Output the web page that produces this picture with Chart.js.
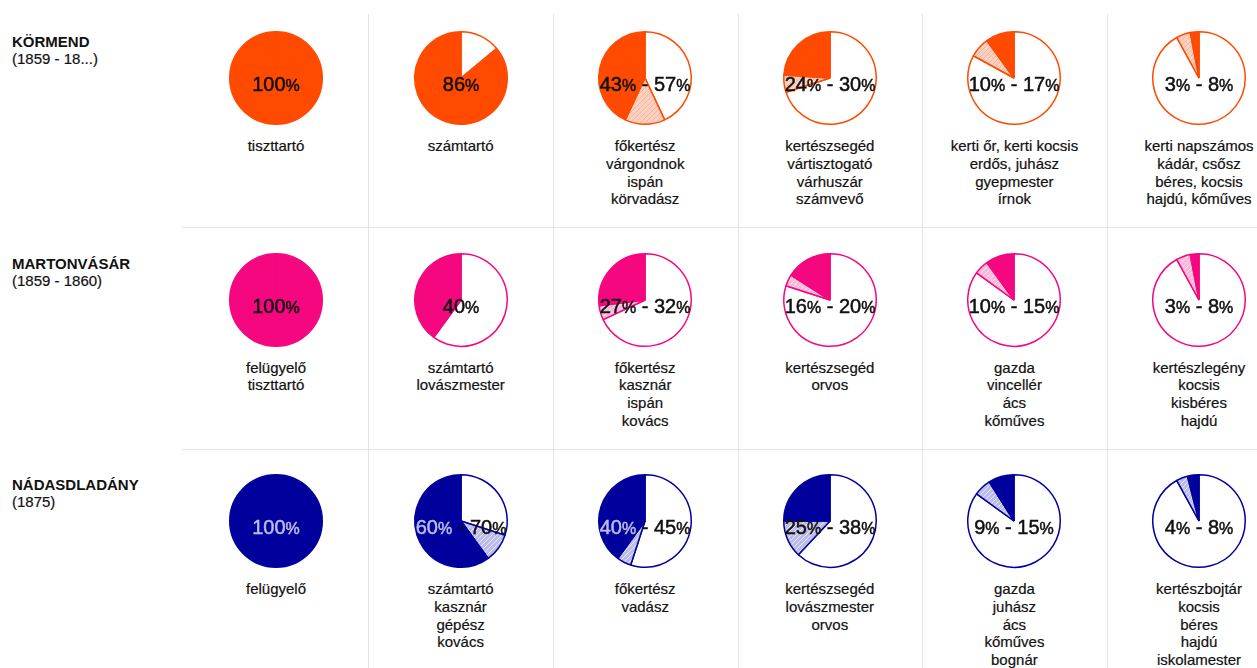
<!DOCTYPE html>
<html>
<head>
<meta charset="utf-8">
<script src="https://cdn.jsdelivr.net/npm/chart.js@4.4.1/dist/chart.umd.min.js"></script>
<style>
	body { margin: 0; background: #fff; font-family: "Liberation Sans", Arial, sans-serif; color: #111; }
	#page { position: relative; width: 1257px; height: 668px; overflow: hidden; }
	.vline { position: absolute; width: 1px; background: #e4e4e4; }
	.hline { position: absolute; height: 1px; background: #e4e4e4; }
	.place { position: absolute; left: 12px; font-size: 15px; line-height: 17px; white-space: nowrap; -webkit-text-stroke: 0.2px #111; }
	.place b { font-weight: bold; -webkit-text-stroke: 0; }
	.jobs { position: absolute; width: 180px; text-align: center; font-size: 15px; line-height: 17.7px; white-space: nowrap; -webkit-text-stroke: 0.2px #111; }
	canvas.pie { position: absolute; }
</style>
</head>
<body>
<div id="page"></div>
<script>
const places = ["KÖRMEND", "MARTONVÁSÁR", "NÁDASDLADÁNY"];
const periods = ["(1859 - 18...)", "(1859 - 1860)", "(1875)"];

// lower and upper share (%) of each wage group, null = single value
const kormendLow = [100, 86, 43, 24, 10, 3];
const kormendHigh = [null, null, 57, 30, 17, 8];
const martonvasarLow = [100, 40, 27, 16, 10, 3];
const martonvasarHigh = [null, null, 32, 20, 15, 8];
const nadasdLow = [100, 60, 40, 25, 9, 4];
const nadasdHigh = [null, 70, 45, 38, 15, 8];

const kormendJobs = [
	["tiszttartó"],
	["számtartó"],
	["főkertész", "várgondnok", "ispán", "körvadász"],
	["kertészsegéd", "vártisztogató", "várhuszár", "számvevő"],
	["kerti őr, kerti kocsis", "erdős, juhász", "gyepmester", "írnok"],
	["kerti napszámos", "kádár, csősz", "béres, kocsis", "hajdú, kőműves"],
];
const martonvasarJobs = [
	["felügyelő", "tiszttartó"],
	["számtartó", "lovászmester"],
	["főkertész", "kasznár", "ispán", "kovács"],
	["kertészsegéd", "orvos"],
	["gazda", "vincellér", "ács", "kőműves"],
	["kertészlegény", "kocsis", "kisbéres", "hajdú"],
];
const nadasdJobs = [
	["felügyelő"],
	["számtartó", "kasznár", "gépész", "kovács"],
	["főkertész", "vadász"],
	["kertészsegéd", "lovászmester", "orvos"],
	["gazda", "juhász", "ács", "kőműves", "bognár"],
	["kertészbojtár", "kocsis", "béres", "hajdú", "iskolamester"],
];

const lowValues = [kormendLow, martonvasarLow, nadasdLow];
const highValues = [kormendHigh, martonvasarHigh, nadasdHigh];
const jobs = [kormendJobs, martonvasarJobs, nadasdJobs];

// styling per row
const rowColors = ["#ff4a00", "#f5077f", "#00009c"];
const hatchFills = ["#fbd2c2", "#f9bad9", "#bcbce8"];
const hatchLines = ["#f7b49c", "#fcdaea", "#e6e6f8"];
const darkRow = [false, false, true];

const colX0 = 276, colStep = 184.6;
const rowY0 = 78, rowStep = 221.5;

const page = document.getElementById("page");

const makeHatch = (fill, line) => {
	const c = document.createElement("canvas");
	c.width = 5;
	c.height = 5;
	const g = c.getContext("2d");
	g.fillStyle = fill;
	g.fillRect(0, 0, 5, 5);
	g.strokeStyle = line;
	g.lineWidth = 1;
	g.beginPath();
	g.moveTo(-1, 6); g.lineTo(6, -1);
	g.moveTo(-1, 1); g.lineTo(1, -1);
	g.moveTo(4, 6); g.lineTo(6, 4);
	g.stroke();
	return g.createPattern(c, "repeat");
};

const centerLabel = {
	id: "centerLabel",
	afterDraw(chart, args, opts) {
		const { ctx } = chart;
		const arc = chart.getDatasetMeta(0).data[0];
		const cx = arc.x, cy = arc.y + 13;
		const font = (s) => `${s}px "Liberation Sans", Arial, sans-serif`;
		ctx.save();
		let total = 0;
		opts.parts.forEach((p) => {
			ctx.font = font(p.size);
			p.w = ctx.measureText(p.text).width;
			total += p.w;
		});
		let x = cx - total / 2;
		ctx.textBaseline = "alphabetic";
		ctx.textAlign = "left";
		ctx.lineWidth = 0.5;
		opts.parts.forEach((p) => {
			ctx.font = font(p.size);
			ctx.fillStyle = p.color;
			ctx.strokeStyle = p.color;
			ctx.fillText(p.text, x, cy);
			ctx.strokeText(p.text, x, cy);
			x += p.w;
		});
		ctx.restore();
	},
};

// grid lines
for (let c = 0; c < 5; c++) {
	const v = document.createElement("div");
	v.className = "vline";
	v.style.left = Math.round(colX0 + colStep * c + colStep / 2) + "px";
	v.style.top = "14px";
	v.style.height = "660px";
	page.appendChild(v);
}
for (let r = 0; r < 2; r++) {
	const h = document.createElement("div");
	h.className = "hline";
	h.style.left = "182px";
	h.style.width = "1075px";
	h.style.top = Math.round(rowY0 + rowStep * r + 149) + "px";
	page.appendChild(h);
}

places.forEach((place, r) => {
	const cy = rowY0 + rowStep * r;

	const title = document.createElement("div");
	title.className = "place";
	title.style.top = cy - 45 + "px";
	title.innerHTML = `<b>${place}</b><br>${periods[r]}`;
	page.appendChild(title);

	const color = rowColors[r];
	const hatch = makeHatch(hatchFills[r], hatchLines[r]);

	lowValues[r].forEach((low, c) => {
		const high = highValues[r][c];
		const top = high ?? low;
		const cx = colX0 + colStep * c;

		const canvas = document.createElement("canvas");
		canvas.className = "pie";
		canvas.width = 120;
		canvas.height = 100;
		canvas.style.left = cx - 60 + "px";
		canvas.style.top = cy - 50 + "px";
		page.appendChild(canvas);

		const lowColor = darkRow[r] && low >= 40 ? "#bcbcea" : "#111111";
		const parts = [
			{ text: String(low), size: 20, color: lowColor },
			{ text: "%", size: 16, color: lowColor },
		];
		if (high !== null) {
			parts.push(
				{ text: " - ", size: 20, color: "#111111" },
				{ text: String(high), size: 20, color: "#111111" },
				{ text: "%", size: 16, color: "#111111" }
			);
		}

		new Chart(canvas, {
			type: "pie",
			data: {
				labels: ["rest", "range", "share"],
				datasets: [
					{
						// clockwise from 12 o'clock: remainder, uncertain range, certain share
						data: [100 - top, top - low, low],
						backgroundColor: ["#ffffff", hatch, color],
						borderColor: color,
						borderWidth: 1.5,
					},
				],
			},
			options: {
				responsive: false,
				animation: false,
				events: [],
				layout: { padding: { top: 3, bottom: 3, left: 13, right: 13 } },
				plugins: {
					legend: { display: false },
					tooltip: { enabled: false },
					centerLabel: { parts },
				},
			},
			plugins: [centerLabel],
		});

		const label = document.createElement("div");
		label.className = "jobs";
		label.style.left = cx - 90 + "px";
		label.style.top = cy + 68 - 8.85 + "px";
		label.innerHTML = jobs[r][c].join("<br>");
		page.appendChild(label);
	});
});
</script>
</body>
</html>
